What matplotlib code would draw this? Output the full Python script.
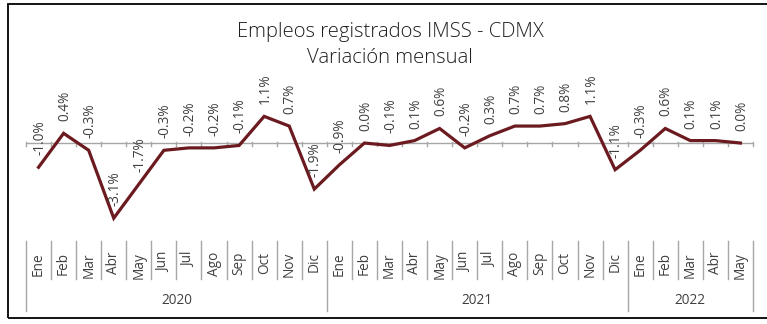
import matplotlib
matplotlib.use("Agg")
import matplotlib.pyplot as plt
from matplotlib import transforms
from matplotlib.lines import Line2D
from matplotlib.patches import Rectangle

years = ["2020", "2021", "2022"]
months_per_year = [12, 12, 5]
month_labels = ["Ene", "Feb", "Mar", "Abr", "May", "Jun",
                "Jul", "Ago", "Sep", "Oct", "Nov", "Dic"]
variacion = [-1.0, 0.4, -0.3, -3.1, -1.7, -0.3, -0.2, -0.2, -0.1, 1.1, 0.7, -1.9,
             -0.9, 0.0, -0.1, 0.1, 0.6, -0.2, 0.3, 0.7, 0.7, 0.8, 1.1, -1.1,
             -0.3, 0.6, 0.1, 0.1, 0.0]
title_lines = ["Empleos registrados IMSS - CDMX", "Variación mensual"]

W, H, DPI = 767, 324, 100
FONT = "Open Sans"
line_color = "#6B1A1F"
text_color = "#404040"
grid_gray = "#A6A6A6"

fig = plt.figure(figsize=(W / DPI, H / DPI), dpi=DPI)

def fx(px):
    return px / W

def fy(py):
    return 1 - py / H

# plot area
left_px, right_px = 26, 753
top_px, bot_px = 80, 240
ax = fig.add_axes([fx(left_px), fy(bot_px), fx(right_px - left_px), (bot_px - top_px) / H])
n = len(variacion)
x = list(range(n))
ax.plot(x, variacion, color=line_color, lw=2.3, solid_joinstyle="miter", zorder=3)
ax.set_xlim(-0.5, n - 0.5)
ax.set_ylim(-4.0, 2.6)
for s in ax.spines.values():
    s.set_visible(False)
ax.set_yticks([])
ax.set_xticks([])

# zero axis with boundary ticks
ax.axhline(0, color=grid_gray, lw=1.0, zorder=1)
for b in range(n + 1):
    ax.plot([b - 0.5, b - 0.5], [-0.14, 0.05], color=grid_gray, lw=1.0, zorder=1,
            clip_on=False)

# data labels
for xi, v in zip(x, variacion):
    ax.annotate(f"{v:.1f}%", (xi, v), xytext=(1, 12), textcoords="offset pixels",
                rotation=90, ha="center", va="bottom", fontsize=9.8,
                family=FONT, color=text_color, zorder=4)

# category axis: months and years
trans = transforms.blended_transform_factory(ax.transData, fig.transFigure)
start = 0
boundaries = [0]
for yr, cnt in zip(years, months_per_year):
    for k in range(cnt):
        i = start + k
        ax.text(i, fy(252), month_labels[k], transform=trans, rotation=90,
                ha="center", va="top", fontsize=9.8, family=FONT,
                color=text_color, clip_on=False)
        if k > 0:
            ax.add_line(Line2D([i - 0.5, i - 0.5], [fy(241), fy(279)],
                               transform=trans, color=grid_gray, lw=1.0,
                               clip_on=False))
    ax.text(start + (cnt - 1) / 2, fy(301), yr, transform=trans,
            ha="center", va="center", fontsize=9.8, family=FONT,
            color=text_color, clip_on=False)
    start += cnt
    boundaries.append(start)
for b in boundaries:
    ax.add_line(Line2D([b - 0.5, b - 0.5], [fy(241), fy(311)], transform=trans,
                       color=grid_gray, lw=1.0, clip_on=False))

# title
fig.text(fx(390), fy(32), title_lines[0], ha="center", va="center",
         fontsize=14.6, family=FONT, fontweight="light", color="#1f1f1f")
fig.text(fx(390), fy(58), title_lines[1], ha="center", va="center",
         fontsize=14.6, family=FONT, fontweight="light", color="#1f1f1f")

# outer frame
fig.add_artist(Rectangle((fx(8), fy(318)), fx(780 - 8), (318 - 4) / H,
                         transform=fig.transFigure, fill=False,
                         edgecolor="black", lw=1.3, clip_on=False))

fig.savefig("out.png", dpi=DPI)
